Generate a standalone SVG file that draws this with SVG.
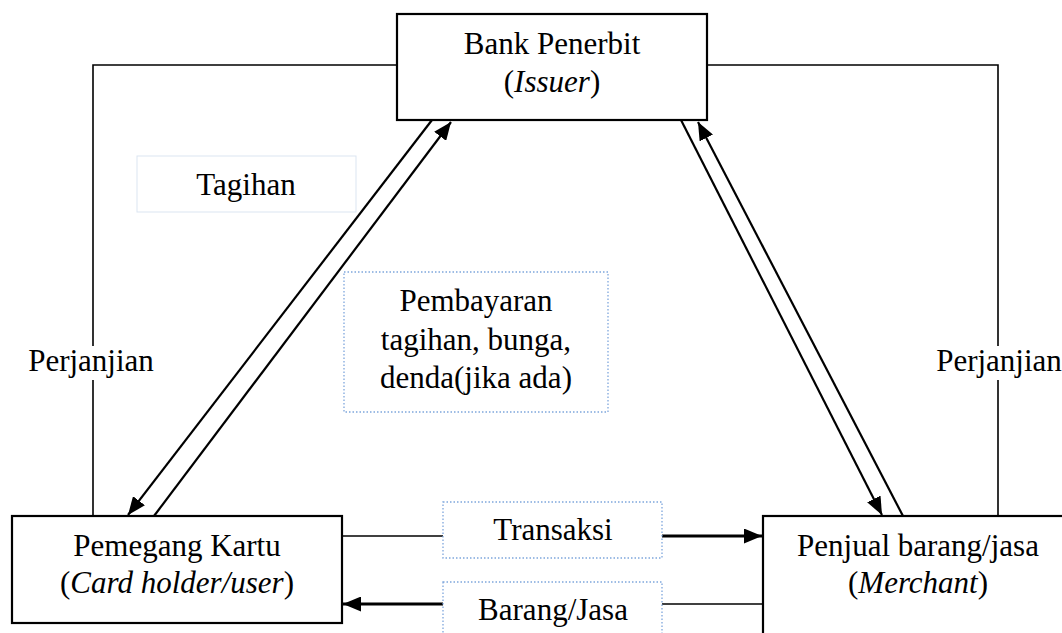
<svg xmlns="http://www.w3.org/2000/svg" width="1062" height="633" viewBox="0 0 1062 633">
<defs>
<style>
.box{fill:#fff;stroke:#000;stroke-width:2.2}
.lbl{fill:#fff;stroke:#7ea6dc;stroke-width:1.3;stroke-dasharray:1.5 2}
.faint{fill:#fff;stroke:#dbe5f1;stroke-width:1}
.t{font-family:"Liberation Serif","Times New Roman",serif;font-size:31px;fill:#000;text-anchor:middle}
.i{font-style:italic}
.ln{fill:none;stroke:#000;stroke-width:1.6}
.ar{fill:none;stroke:#000;stroke-width:2.2}
.ab{fill:none;stroke:#000;stroke-width:3}
</style>
<marker id="ah" markerUnits="userSpaceOnUse" markerWidth="19" markerHeight="15" refX="18" refY="7.5" orient="auto">
<path d="M0,0 L18,7.5 L0,15 z" fill="#000"/>
</marker>
</defs>
<rect width="1062" height="633" fill="#fff"/>
<g id="connectors">
<polyline class="ln" points="397,65 93,65 93,516"/>
<polyline class="ln" points="707,65 998,65 998,516"/>
<line class="ar" x1="154" y1="516" x2="451" y2="122" marker-end="url(#ah)"/>
<line class="ar" x1="432" y1="120" x2="128" y2="515" marker-end="url(#ah)"/>
<line class="ar" x1="681" y1="120" x2="882" y2="515" marker-end="url(#ah)"/>
<line class="ar" x1="903" y1="516" x2="698" y2="122" marker-end="url(#ah)"/>
<line class="ln" x1="342" y1="536" x2="443" y2="536"/>
<line class="ab" x1="662" y1="536" x2="762" y2="536" marker-end="url(#ah)"/>
<line class="ab" x1="443" y1="604" x2="343" y2="604" marker-end="url(#ah)"/>
<line class="ln" x1="662" y1="604" x2="763" y2="604"/>
</g>
<g id="perjanjian-left">
<rect x="25" y="346" width="134" height="34" fill="#fff"/>
<text class="t" x="91" y="371">Perjanjian</text>
</g>
<g id="perjanjian-right">
<rect x="934" y="346" width="128" height="34" fill="#fff"/>
<text class="t" x="999" y="371">Perjanjian</text>
</g>
<g id="issuer">
<rect class="box" x="397" y="14" width="310" height="106"/>
<text class="t" x="552" y="54">Bank Penerbit</text>
<text class="t" x="552" y="92">(<tspan class="i">Issuer</tspan>)</text>
</g>
<g id="tagihan">
<rect class="faint" x="137" y="156" width="219" height="56"/>
<text class="t" x="246" y="195">Tagihan</text>
</g>
<g id="pembayaran">
<rect class="lbl" x="344" y="272" width="264" height="140"/>
<text class="t" x="476" y="311">Pembayaran</text>
<text class="t" x="476" y="350">tagihan, bunga,</text>
<text class="t" x="476" y="388">denda(jika ada)</text>
</g>
<g id="cardholder">
<rect class="box" x="12" y="516" width="330" height="107"/>
<text class="t" x="177" y="556">Pemegang Kartu</text>
<text class="t" x="177" y="593">(<tspan class="i">Card holder/user</tspan>)</text>
</g>
<g id="merchant">
<rect class="box" x="763" y="516" width="312" height="130"/>
<text class="t" x="918" y="556">Penjual barang/jasa</text>
<text class="t" x="918" y="593">(<tspan class="i">Merchant</tspan>)</text>
</g>
<g id="transaksi">
<rect class="lbl" x="443" y="502" width="219" height="56"/>
<text class="t" x="553" y="540">Transaksi</text>
</g>
<g id="barang">
<rect class="lbl" x="443" y="582" width="219" height="60"/>
<text class="t" x="553" y="620">Barang/Jasa</text>
</g>
</svg>
